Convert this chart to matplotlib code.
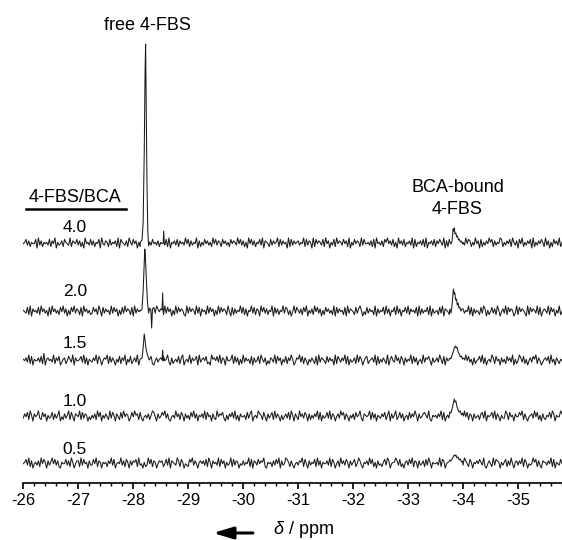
import numpy as np
import matplotlib
matplotlib.use("Agg")
from matplotlib import pyplot as plt
from matplotlib.ticker import MultipleLocator

plt.rcParams['font.family'] = ['Liberation Sans', 'DejaVu Sans']
plt.rcParams['axes.unicode_minus'] = False
plt.rcParams['mathtext.fontset'] = 'custom'
plt.rcParams['mathtext.it'] = 'Liberation Sans:italic'
plt.rcParams['mathtext.rm'] = 'Liberation Sans'

# ratio labels, top to bottom
ratios = ['4.0', '2.0', '1.5', '1.0', '0.5']

# baseline noise, one digit per 0.025 ppm starting at -26 ppm (4.5 = zero level)
noise_40 = ("4573625447 1836254537 2648153462 7543826547 3625184537"
            "3625471843 6527354628 1754362853 7461527354 8263745362"
            "5463728154 6372645384 7263548162 5374635284 7365274635"
            "2746538473 6251847362 5473816542 7364582736 4518273645"
            "6354827365 1827465372 8461537284 6537462815 3746528374"
            "4536271845 3627584637 2518463725 4638172546 3728154637"
            "2647538162 7453847261 5384762538 4617253648 5726354872"
            "5364728536 1748253647 1825364752 8361527463 8257463528")
noise_20 = ("5437281645 3728463517 2846352748 3615274836 5271846352"
            "3746285173 6452837461 5273846527 1836452738 1645273864"
            "6528374615 2837465218 3746528371 6452837461 5283746528"
            "4172635483 7261548372 6518473625 4817362548 3762514837"
            "5362748153 6284736152 7463528173 6452718365 4273685142"
            "7364528163 5472836154 7283615473 8264537182 6354728163"
            "4527381654 2736485172 6354827163 5427386152 4736285146"
            "3827465138 2746531827 4653827146 5382746153 8247365184")
noise_15 = ("5463827154 4637291564 5382647135 6247538164 4573826154"
            "3648275146 5827364153 7264815372 4638152746 3857214635"
            "6274583162 4537268145 3826457183 5647231856 4738265174"
            "4582736152 8364527163 4728536142 6538274615 3726485136"
            "5837264153 6427183654 2736451827 5364827153 4628375146"
            "7245638172 5364281574 3846275163 5482736145 2836574163"
            "4638527164 3725846153 6284735162 4573826145 3862745163"
            "5274638152 4863725146 3758264135 6472835164 2547386152")
noise_10 = ("3647285164 5832746153 4726358142 6358274165 4827365142"
            "5362847153 6428375164 2738465137 4856273145 3625874163"
            "4758362145 3846275163 5274836154 6382745163 2846573152"
            "6473825164 4527368145 3865274163 5728364152 4637285164"
            "2846375162 5364827153 4738265146 3857264153 6274583165"
            "4582736154 3647258163 5824736145 2736485163 4675382154"
            "5364827145 6273845162 3847265163 4526738154 5738264153"
            "3862745164 4758263145 6384725163 2547386154 4863725146")
noise_05 = ("4573826145 3628475163 5847362154 4736285146 6283745163"
            "3748265154 5264837145 4836275163 6572834152 3847265146"
            "5624738165 4386275143 2758364156 4637285164 5382746153"
            "4827365143 6354827165 3746582154 5263748163 4875263145"
            "3658274163 5472836154 4638275146 2846375163 5724863154"
            "6384725163 4257386145 5863724156 3748265163 4627385154"
            "4538276145 5736482163 3864275154 6475382146 4283765153"
            "5726384156 3648275143 4857263165 5364827154 3746285163")

# free 4-FBS line near -28.2 ppm (ppm, intensity)
free_40 = [(-28.13, 1), (-28.16, 3), (-28.18, 20), (-28.20, 90), (-28.215, 170),
           (-28.225, 199), (-28.232, 160), (-28.24, 120), (-28.25, 60),
           (-28.265, 12), (-28.28, -3), (-28.30, 1)]
free_20 = [(-28.13, 0), (-28.16, 2), (-28.18, 20), (-28.20, 50), (-28.21, 62),
           (-28.22, 55), (-28.24, 30), (-28.26, 8), (-28.28, -2), (-28.30, 3)]
free_15 = [(-28.13, 1), (-28.16, 2), (-28.18, 12), (-28.20, 26), (-28.215, 20),
           (-28.23, 12), (-28.25, 7), (-28.27, 3), (-28.29, 0)]

# single-point artefacts
spike_40 = [(-28.545, 0), (-28.555, 12), (-28.565, -1)]
dip_20 = [(-28.32, 1), (-28.335, -17), (-28.35, 2)]
spike_20 = [(-28.525, 1), (-28.535, 18), (-28.545, 0)]
spike_15 = [(-28.525, 0), (-28.535, 10), (-28.545, -1)]

# BCA-bound 4-FBS line near -33.85 ppm
bound_40 = [(-33.76, 1), (-33.78, -1), (-33.80, 2), (-33.81, 8), (-33.82, 14),
            (-33.83, 12), (-33.84, 15), (-33.855, 9), (-33.87, 10), (-33.885, 6),
            (-33.90, 7), (-33.915, 3), (-33.93, 4), (-33.95, 1), (-33.97, 2),
            (-33.99, -1)]
bound_20 = [(-33.76, 2), (-33.78, -2), (-33.795, 3), (-33.81, 12), (-33.825, 22),
            (-33.84, 17), (-33.85, 18), (-33.865, 11), (-33.88, 12), (-33.895, 6),
            (-33.91, 8), (-33.925, 3), (-33.94, 4), (-33.96, 0), (-33.98, 2)]
bound_15 = [(-33.74, 0), (-33.76, 2), (-33.78, 1), (-33.80, 5), (-33.82, 8),
            (-33.84, 12), (-33.86, 14), (-33.875, 12), (-33.89, 13), (-33.91, 8),
            (-33.93, 6), (-33.95, 3), (-33.97, 4), (-33.99, 1), (-34.01, 2),
            (-34.03, 0)]
bound_10 = [(-33.72, 1), (-33.74, -2), (-33.76, 4), (-33.78, 3), (-33.80, 7),
            (-33.82, 12), (-33.84, 17), (-33.855, 14), (-33.87, 15), (-33.89, 9),
            (-33.91, 6), (-33.93, 4), (-33.95, 5), (-33.97, 1), (-33.99, 3),
            (-34.01, 0)]
bound_05 = [(-33.74, 1), (-33.76, 3), (-33.78, 2), (-33.80, 4), (-33.82, 6),
            (-33.84, 8), (-33.855, 7), (-33.87, 8), (-33.89, 5), (-33.91, 6),
            (-33.93, 3), (-33.95, 4), (-33.97, 1), (-33.99, 2)]

noises = [noise_40, noise_20, noise_15, noise_10, noise_05]
features = [[free_40, spike_40, bound_40],
            [free_20, dip_20, spike_20, bound_20],
            [free_15, spike_15, bound_15],
            [bound_10],
            [bound_05]]

# layout
offsets = [240, 172, 123, 67, 20]
label_y = [255, 191, 140, 82, 33]
step = 0.025
noise_scale = 1.45


def build_trace(noise, feats):
    d = np.array([int(c) for c in noise.replace(" ", "")])
    x = -26 - step * np.arange(len(d))
    y = (d - 4.5) * noise_scale
    keep = np.ones(len(x), bool)
    fx, fy = [], []
    for f in feats:
        px = np.array([p[0] for p in f])
        keep &= ~((x <= px.max()) & (x >= px.min()))
        fx += list(px)
        fy += [p[1] for p in f]
    xs = np.concatenate([x[keep], fx])
    ys = np.concatenate([y[keep], fy])
    order = np.argsort(-xs)
    return xs[order], ys[order]


fig = plt.figure(figsize=(5.62, 5.40), dpi=100)
ax = fig.add_axes([23.3 / 562, 57 / 540, 1 - 23.3 / 562, 483 / 540])

for noise, feats, off in zip(noises, features, offsets):
    xs, ys = build_trace(noise, feats)
    ax.plot(xs, ys + off, color='#1a1a1a', lw=0.75)

for lab, ly in zip(ratios, label_y):
    ax.text(-26.94, ly, lab, ha='center', va='center', fontsize=12.5)

ax.text(-26.94, 286, '4-FBS/BCA', ha='center', va='center', fontsize=13)
ax.plot([-26.05, -27.87], [274, 274], color='black', lw=1.8, clip_on=False)
ax.text(-28.25, 457, 'free 4-FBS', ha='center', va='center', fontsize=13)
ax.text(-33.90, 295, 'BCA-bound', ha='center', va='center', fontsize=13)
ax.text(-33.90, 273, '4-FBS', ha='center', va='center', fontsize=13)

ax.set_xlim(-26, -35.8)
ax.set_ylim(0, 483)
ax.set_yticks([])
for s in ['left', 'right', 'top']:
    ax.spines[s].set_visible(False)
ax.spines['bottom'].set_linewidth(1.2)
ax.xaxis.set_major_locator(MultipleLocator(1))
ax.xaxis.set_minor_locator(MultipleLocator(0.2))
ax.tick_params(axis='x', which='major', direction='out', length=4.5, width=1.2,
               labelsize=12, pad=3)
ax.tick_params(axis='x', which='minor', direction='out', length=2.5, width=1.0)

fig.text(303 / 562, 1 - 530 / 540, r'$\it{\delta}$ / ppm', ha='center', va='center',
         fontsize=13)
ax.annotate('', xy=(213 / 562, 1 - 533 / 540), xytext=(253 / 562, 1 - 533 / 540),
            xycoords='figure fraction', textcoords='figure fraction',
            arrowprops=dict(arrowstyle='-|>,head_length=1.2,head_width=0.36',
                            lw=2.2, color='black', shrinkA=0, shrinkB=0))

plt.savefig('out.png', dpi=100)
